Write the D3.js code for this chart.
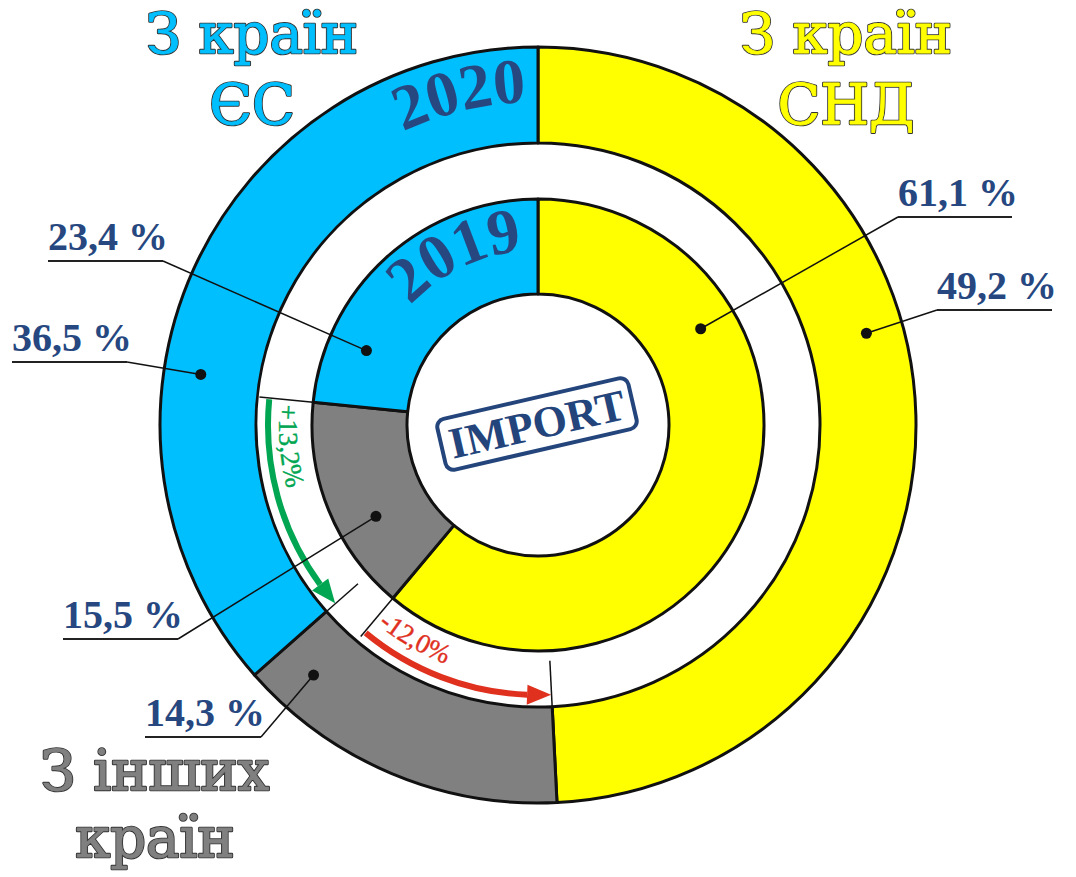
<!DOCTYPE html>
<html>
<head>
<meta charset="utf-8">
<script src="https://cdn.jsdelivr.net/npm/d3@7"></script>
<style>
  body { margin: 0; background: #fff; }
  svg { display: block; }
</style>
</head>
<body>
<script>
// Chart size
var w = 1076;
var h = 877;

// Data: import shares by origin, 2019 (inner ring) and 2020 (outer ring)
var groups = ["З країн СНД", "З інших країн", "З країн ЄС"];
var share2020 = [49.2, 14.3, 36.5];
var share2019 = [61.1, 15.5, 23.4];
var years = ["2020", "2019"];
var changeLabels = ["+13,2%", "-12,0%"];
var groupColors = ["#ffff00", "#808080", "#00bfff"];

// Heading lines for each group
var headingLines = [["З країн", "СНД"], ["З інших", "країн"], ["З країн", "ЄС"]];

// Layout (positions only)
var cx = 538, cy = 425;
var outerR = [282, 378];   // 2020 ring
var innerR = [131, 226];   // 2019 ring
var dark = "#264780";

var svg = d3.select("body")
        .append("svg")
        .attr("width", w)
        .attr("height", h);

var g = svg.append("g").attr("transform", "translate(" + cx + "," + cy + ")");

var pie = d3.pie().sort(null).value(function(d) { return d; });
var arcs2020 = pie(share2020);
var arcs2019 = pie(share2019);

var arcOuter = d3.arc().innerRadius(outerR[0]).outerRadius(outerR[1]);
var arcInner = d3.arc().innerRadius(innerR[0]).outerRadius(innerR[1]);

// point on a circle, angle clockwise from 12 o'clock
function pt(a, r) { return [r * Math.sin(a), -r * Math.cos(a)]; }
var deg = Math.PI / 180;

// arc path helper (for textPath and arrows)
function arcPath(a0, a1, r) {
    var p0 = pt(a0, r), p1 = pt(a1, r);
    var sweep = a1 > a0 ? 1 : 0;
    var large = Math.abs(a1 - a0) > Math.PI ? 1 : 0;
    return "M" + p0[0] + "," + p0[1] + "A" + r + "," + r + " 0 " + large + " " + sweep + " " + p1[0] + "," + p1[1];
}

// Rings
g.selectAll("path.outer")
    .data(arcs2020)
    .enter()
    .append("path")
    .attr("class", "outer")
    .attr("d", arcOuter)
    .attr("fill", function(d, i) { return groupColors[i]; })
    .attr("stroke", "#111")
    .attr("stroke-width", 3)
    .attr("stroke-linejoin", "round");

g.selectAll("path.inner")
    .data(arcs2019)
    .enter()
    .append("path")
    .attr("class", "inner")
    .attr("d", arcInner)
    .attr("fill", function(d, i) { return groupColors[i]; })
    .attr("stroke", "#111")
    .attr("stroke-width", 3)
    .attr("stroke-linejoin", "round");

// Thin guide lines across the white gap
var guides = [
    {a: arcs2019[2].startAngle, r0: innerR[1], r1: 280},
    {a: arcs2020[2].startAngle, r0: outerR[0], r1: 240},
    {a: arcs2019[1].startAngle, r0: innerR[1], r1: 276},
    {a: arcs2020[1].startAngle, r0: outerR[0], r1: 236}
];
g.selectAll("line.guide")
    .data(guides)
    .enter()
    .append("line")
    .attr("class", "guide")
    .attr("x1", function(d) { return pt(d.a, d.r0)[0]; })
    .attr("y1", function(d) { return pt(d.a, d.r0)[1]; })
    .attr("x2", function(d) { return pt(d.a, d.r1)[0]; })
    .attr("y2", function(d) { return pt(d.a, d.r1)[1]; })
    .attr("stroke", "#111")
    .attr("stroke-width", 1.5);

// Change arrows: EU share grew, CIS share shrank
var arrows = [
    {from: arcs2019[2].startAngle, to: arcs2020[2].startAngle, color: "#00a651", text: changeLabels[0], textR: 259},
    {from: arcs2019[1].startAngle, to: arcs2020[1].startAngle, color: "#e0301e", text: changeLabels[1], textR: 256}
];
var arrowR = 270, headLen = 24, headHalf = 10;

arrows.forEach(function(d, i) {
    var tip = d.to + 0.1 * deg;
    var baseA = tip + headLen / arrowR;
    g.append("path")
        .attr("d", arcPath(d.from - 0.3 * deg, baseA, arrowR))
        .attr("fill", "none")
        .attr("stroke", d.color)
        .attr("stroke-width", 6);
    var t = pt(tip, arrowR), b1 = pt(baseA, arrowR - headHalf), b2 = pt(baseA, arrowR + headHalf);
    g.append("path")
        .attr("d", "M" + t + "L" + b1 + "L" + b2 + "Z")
        .attr("fill", d.color);

    g.append("path")
        .attr("id", "chg" + i)
        .attr("d", arcPath(d.from - 1.2 * deg, d.to, d.textR))
        .attr("fill", "none");
    g.append("text")
        .attr("font-family", "Liberation Serif")
        .attr("font-size", 27)
        .attr("fill", d.color)
        .attr("stroke", d.color)
        .attr("stroke-width", 0.4)
        .append("textPath")
        .attr("href", "#chg" + i)
        .text(d.text);
});

// Year captions following the rings
var yearPaths = [
    {r: 323, end: 358},
    {r: 175, end: 355}
];
yearPaths.forEach(function(d, i) {
    g.append("path")
        .attr("id", "yr" + i)
        .attr("d", arcPath(270 * deg, 360 * deg, d.r))
        .attr("fill", "none");
    g.append("text")
        .attr("font-family", "Liberation Serif")
        .attr("font-weight", "bold")
        .attr("font-size", 64)
        .attr("fill", dark)
        .attr("text-anchor", "end")
        .append("textPath")
        .attr("href", "#yr" + i)
        .attr("startOffset", ((d.end - 270) / 90 * 100) + "%")
        .text(years[i]);
});

// Value labels with leader lines
// ring: 0 = 2019 (inner), 1 = 2020 (outer); t = position inside slice; x0/x1/y = underline
var labels = [
    {ring: 0, k: 2, t: 0.21, r: 187, x0: 48, x1: 163, y: 261, side: "right"},
    {ring: 1, k: 2, t: 0.38, r: 341, x0: 12, x1: 127, y: 362, side: "right"},
    {ring: 0, k: 0, t: 0.27, r: 189, x0: 898, x1: 1012, y: 217, side: "left"},
    {ring: 1, k: 0, t: 0.42, r: 341, x0: 937, x1: 1052, y: 310, side: "left"},
    {ring: 0, k: 1, t: 0.37, r: 186, x0: 63, x1: 178, y: 639, side: "right"},
    {ring: 1, k: 1, t: 0.87, r: 336, x0: 145, x1: 261, y: 737, side: "right"}
];
labels.forEach(function(d) {
    var a = (d.ring ? arcs2020 : arcs2019)[d.k];
    var val = (d.ring ? share2020 : share2019)[d.k];
    var ang = a.startAngle + d.t * (a.endAngle - a.startAngle);
    var p = pt(ang, d.r);
    var dotX = cx + p[0], dotY = cy + p[1];
    var lx = d.side === "right" ? d.x1 : d.x0;

    svg.append("line")
        .attr("x1", d.x0).attr("x2", d.x1)
        .attr("y1", d.y).attr("y2", d.y)
        .attr("stroke", "#222").attr("stroke-width", 2);
    svg.append("line")
        .attr("x1", lx).attr("y1", d.y)
        .attr("x2", dotX).attr("y2", dotY)
        .attr("stroke", "#111").attr("stroke-width", 1.5);
    svg.append("circle")
        .attr("cx", dotX).attr("cy", dotY)
        .attr("r", 5.5)
        .attr("fill", "#111");
    svg.append("text")
        .attr("x", d.x0)
        .attr("y", d.y - 11)
        .attr("font-family", "Liberation Serif")
        .attr("font-weight", "bold")
        .attr("font-size", 40)
        .attr("fill", dark)
        .text(d3.format(".1f")(val).replace(".", ",") + " %");
});

// IMPORT stamp in the middle
var stamp = svg.append("g")
        .attr("transform", "translate(537,424) rotate(-13)");
stamp.append("rect")
    .attr("x", -98).attr("y", -26)
    .attr("width", 196).attr("height", 52)
    .attr("rx", 8)
    .attr("fill", "none")
    .attr("stroke", "#24457c")
    .attr("stroke-width", 4);
stamp.append("text")
    .attr("text-anchor", "middle")
    .attr("y", 15)
    .attr("font-family", "Liberation Serif")
    .attr("font-weight", "bold")
    .attr("font-size", 44)
    .attr("fill", "#24457c")
    .text("IMPORT");

// Group headings: dark outline underneath, slightly thickened colour fill on top
var headingPos = [
    {x: 846, y: [53, 124]},
    {x: 155, y: [790, 857]},
    {x: 252, y: [53, 124]}
];
headingLines.forEach(function(lines, i) {
    lines.forEach(function(s, j) {
        [{stroke: "#333", sw: 2.6}, {stroke: groupColors[i], sw: 0.8}].forEach(function(layer) {
            svg.append("text")
                .attr("x", headingPos[i].x)
                .attr("y", headingPos[i].y[j])
                .attr("text-anchor", "middle")
                .attr("font-family", "DejaVu Serif")
                .attr("font-size", 56)
                .attr("fill", groupColors[i])
                .attr("stroke", layer.stroke)
                .attr("stroke-width", layer.sw)
                .attr("stroke-linejoin", "round")
                .text(s);
        });
    });
});
</script>
</body>
</html>
